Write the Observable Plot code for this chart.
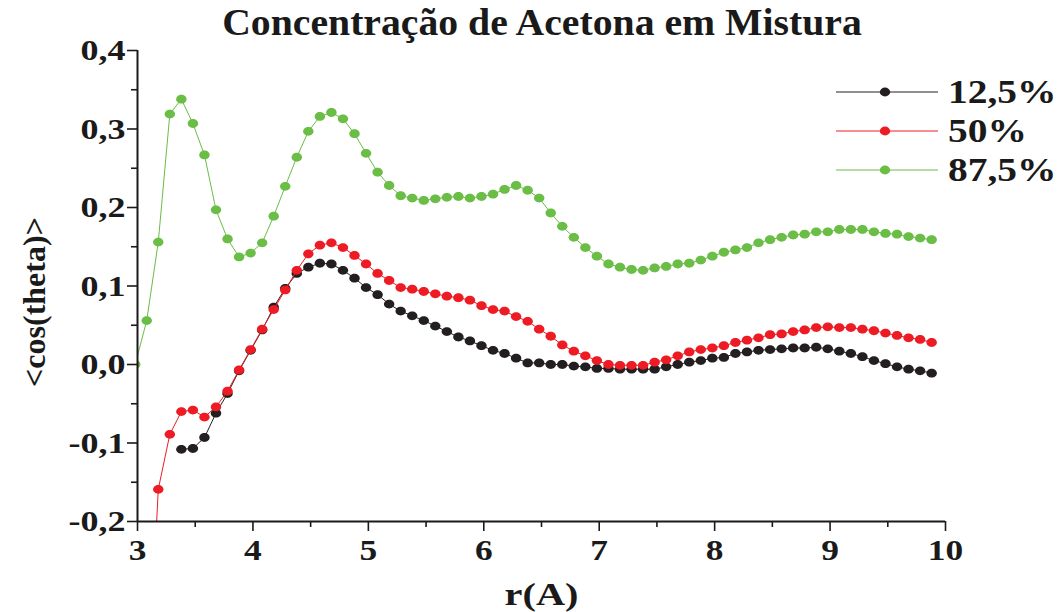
<!DOCTYPE html>
<html>
<head>
<meta charset="utf-8">
<script src="https://cdn.jsdelivr.net/npm/d3@7"></script>
<script src="https://cdn.jsdelivr.net/npm/@observablehq/plot@0.6"></script>
<style>
  body { margin: 0; background: #fff; }
  #wrap { position: relative; width: 1062px; height: 612px; overflow: hidden; background: #fff; }
  #wrap svg text { font-family: "Liberation Serif", "Times New Roman", serif; font-weight: bold; }
  #title { position: absolute; left: 542px; top: 0; transform: translateX(-50%) scaleX(1.045); white-space: nowrap;
           font: bold 38px "Liberation Serif", "Times New Roman", serif; line-height: 44px; color: #1a1a1a; }
  .lg { position: absolute; left: 836px; height: 36px; display: flex; align-items: center; white-space: nowrap;
        font: bold 34px "Liberation Serif", "Times New Roman", serif; line-height: 36px; color: #1a1a1a; }
  .lg svg { display: block; margin-right: 10px; }
  .lg span { display: inline-block; transform: scaleX(1.16); transform-origin: left center; }
</style>
</head>
<body>
<div id="wrap"><div id="chart"></div><div id="title"></div></div>
<script>
// ---- data ----
const titleText = "Concentração de Acetona em Mistura";
const xLabel = "r(A)";
const yLabel = "<cos(theta)>";

const r = [2.98, 3.08, 3.18, 3.28, 3.38, 3.48, 3.58, 3.68, 3.78, 3.88,
           3.98, 4.08, 4.18, 4.28, 4.38, 4.48, 4.58, 4.68, 4.78, 4.88,
           4.98, 5.08, 5.18, 5.28, 5.38, 5.48, 5.58, 5.68, 5.78, 5.88,
           5.98, 6.08, 6.18, 6.28, 6.38, 6.48, 6.58, 6.68, 6.78, 6.88,
           6.98, 7.08, 7.18, 7.28, 7.38, 7.48, 7.58, 7.68, 7.78, 7.88,
           7.98, 8.08, 8.18, 8.28, 8.38, 8.48, 8.58, 8.68, 8.78, 8.88,
           8.98, 9.08, 9.18, 9.28, 9.38, 9.48, 9.58, 9.68, 9.78, 9.88];

const seriesNames = ["12,5%", "50%", "87,5%"];
const seriesColors = ["#231f20", "#ed1c24", "#6abd45"];

const s125 = [null, null, null, null, -0.108, -0.107, -0.093, -0.062, -0.037, -0.008,
              0.018, 0.044, 0.073, 0.097, 0.116, 0.124, 0.129, 0.128, 0.120, 0.110,
              0.098, 0.089, 0.077, 0.068, 0.062, 0.056, 0.049, 0.042, 0.035, 0.030,
              0.024, 0.018, 0.014, 0.008, 0.002, 0.002, 0.000, 0.000, -0.002, -0.003,
              -0.005, -0.005, -0.006, -0.006, -0.006, -0.006, -0.003, 0.000, 0.003, 0.005,
              0.008, 0.009, 0.014, 0.016, 0.018, 0.019, 0.020, 0.021, 0.021, 0.022,
              0.020, 0.017, 0.014, 0.010, 0.005, 0.001, -0.003, -0.006, -0.008, -0.011];

const s50 = [null, -0.45, -0.159, -0.089, -0.060, -0.058, -0.067, -0.054, -0.034, -0.007,
             0.019, 0.045, 0.070, 0.095, 0.120, 0.141, 0.152, 0.155, 0.149, 0.139,
             0.128, 0.116, 0.107, 0.098, 0.096, 0.093, 0.090, 0.087, 0.085, 0.082,
             0.075, 0.070, 0.068, 0.061, 0.055, 0.045, 0.036, 0.025, 0.017, 0.011,
             0.005, 0.000, -0.001, -0.001, -0.001, 0.003, 0.006, 0.011, 0.016, 0.019,
             0.021, 0.024, 0.028, 0.031, 0.034, 0.038, 0.039, 0.042, 0.044, 0.047,
             0.048, 0.047, 0.047, 0.045, 0.043, 0.040, 0.037, 0.034, 0.032, 0.028];

const s875 = [0.000, 0.056, 0.156, 0.319, 0.338, 0.307, 0.267, 0.197, 0.160, 0.137,
              0.142, 0.155, 0.189, 0.227, 0.264, 0.297, 0.316, 0.321, 0.313, 0.294,
              0.269, 0.245, 0.228, 0.215, 0.212, 0.209, 0.211, 0.213, 0.214, 0.212,
              0.214, 0.217, 0.223, 0.228, 0.222, 0.212, 0.193, 0.176, 0.162, 0.149,
              0.138, 0.128, 0.124, 0.121, 0.120, 0.123, 0.125, 0.128, 0.129, 0.133,
              0.138, 0.143, 0.146, 0.149, 0.155, 0.159, 0.162, 0.165, 0.166, 0.169,
              0.169, 0.172, 0.172, 0.172, 0.169, 0.167, 0.166, 0.163, 0.161, 0.159];

const xTicks = [3, 4, 5, 6, 7, 8, 9, 10];
const xMinorTicks = [3.5, 4.5, 5.5, 6.5, 7.5, 8.5, 9.5];
const yTicks = [-0.2, -0.1, 0, 0.1, 0.2, 0.3, 0.4];
const yTickLabels = ["-0,2", "-0,1", "0,0", "0,1", "0,2", "0,3", "0,4"];
const yMinorTicks = [-0.15, -0.05, 0.05, 0.15, 0.25, 0.35];

// ---- build ----
const allSeries = [s125, s50, s875];
const rows = [];
allSeries.forEach((vals, si) => {
  vals.forEach((v, i) => { if (v != null) rows.push({r: r[i], v, s: seriesNames[si]}); });
});
const yLabelMap = new Map(yTicks.map((t, i) => [t, yTickLabels[i]]));

const RX = 5.2, RY = 4.4;
function ellipsePath(ctx, rx, ry) {
  const k = 0.5523;
  ctx.moveTo(rx, 0);
  ctx.bezierCurveTo(rx, ry * k, rx * k, ry, 0, ry);
  ctx.bezierCurveTo(-rx * k, ry, -rx, ry * k, -rx, 0);
  ctx.bezierCurveTo(-rx, -ry * k, -rx * k, -ry, 0, -ry);
  ctx.bezierCurveTo(rx * k, -ry, rx, -ry * k, rx, 0);
  ctx.closePath();
}
const ellipseSymbol = {draw(ctx) { ellipsePath(ctx, RX, RY); }};

const seriesMarks = [];
seriesNames.forEach((name, si) => {
  const data = rows.filter(d => d.s === name);
  seriesMarks.push(Plot.line(data, {x: "r", y: "v", stroke: seriesColors[si], strokeWidth: 1, clip: true}));
  seriesMarks.push(Plot.dot(data, {x: "r", y: "v", fill: seriesColors[si], stroke: "none", symbol: ellipseSymbol, clip: true}));
});

const chart = Plot.plot({
  width: 1062,
  height: 612,
  marginLeft: 137,
  marginRight: 117,
  marginTop: 50,
  marginBottom: 91,
  style: {background: "white", color: "#1a1a1a", overflow: "visible"},
  x: {domain: [3, 10]},
  y: {domain: [-0.2, 0.4]},
  marks: [
    ...seriesMarks,
    Plot.axisX(xMinorTicks, {tickSize: 6, tickFormat: () => "", label: null, strokeWidth: 1.6}),
    Plot.axisX(xTicks, {tickSize: 10, tickPadding: 7, tickFormat: d => String(d), fontSize: 30, fontWeight: "bold", label: null, strokeWidth: 1.6}),
    Plot.axisY(yMinorTicks, {tickSize: 6, tickFormat: () => "", label: null, strokeWidth: 1.6}),
    Plot.axisY(yTicks, {tickSize: 10, tickPadding: 2, tickFormat: d => yLabelMap.get(d), fontSize: 30, fontWeight: "bold", label: null, strokeWidth: 1.6}),
    Plot.ruleX([3], {strokeWidth: 2}),
    Plot.ruleY([-0.2], {strokeWidth: 2}),
    Plot.text([yLabel], {frameAnchor: "left", dx: -103, dy: 16, rotate: -90, fontSize: 32, fontWeight: "bold", textAnchor: "middle", lineAnchor: "middle"}),
    Plot.text([xLabel], {frameAnchor: "bottom", dy: 74, fontSize: 31, fontWeight: "bold", textAnchor: "middle", lineAnchor: "middle", className: "xlab"})
  ]
});
document.getElementById("chart").appendChild(chart);
document.getElementById("title").textContent = titleText;

// widen glyphs horizontally (reference text is broad)
function widen(selector, f) {
  chart.querySelectorAll(selector).forEach(t => {
    const L = t.getComputedTextLength();
    if (L > 0) { t.setAttribute("textLength", (L * f).toFixed(1)); t.setAttribute("lengthAdjust", "spacingAndGlyphs"); }
  });
}
widen('g[aria-label="x-axis tick label"] text', 1.18);
widen('g[aria-label="y-axis tick label"] text', 1.2);
widen('.xlab text', 1.3);

// legend
const legendY = [92, 131, 169.5];
const wrap = document.getElementById("wrap");
seriesNames.forEach((name, i) => {
  const row = document.createElement("div");
  row.className = "lg";
  row.style.top = (legendY[i] - 18) + "px";
  const sw = d3.create("svg").attr("width", 102).attr("height", 36);
  sw.append("line").attr("x1", 0).attr("x2", 102).attr("y1", 18).attr("y2", 18)
    .attr("stroke", seriesColors[i]).attr("stroke-width", 1);
  sw.append("ellipse").attr("cx", 49).attr("cy", 18).attr("rx", RX).attr("ry", RY).attr("fill", seriesColors[i]);
  row.appendChild(sw.node());
  const t = document.createElement("span");
  t.textContent = name;
  row.appendChild(t);
  wrap.appendChild(row);
});
</script>
</body>
</html>
